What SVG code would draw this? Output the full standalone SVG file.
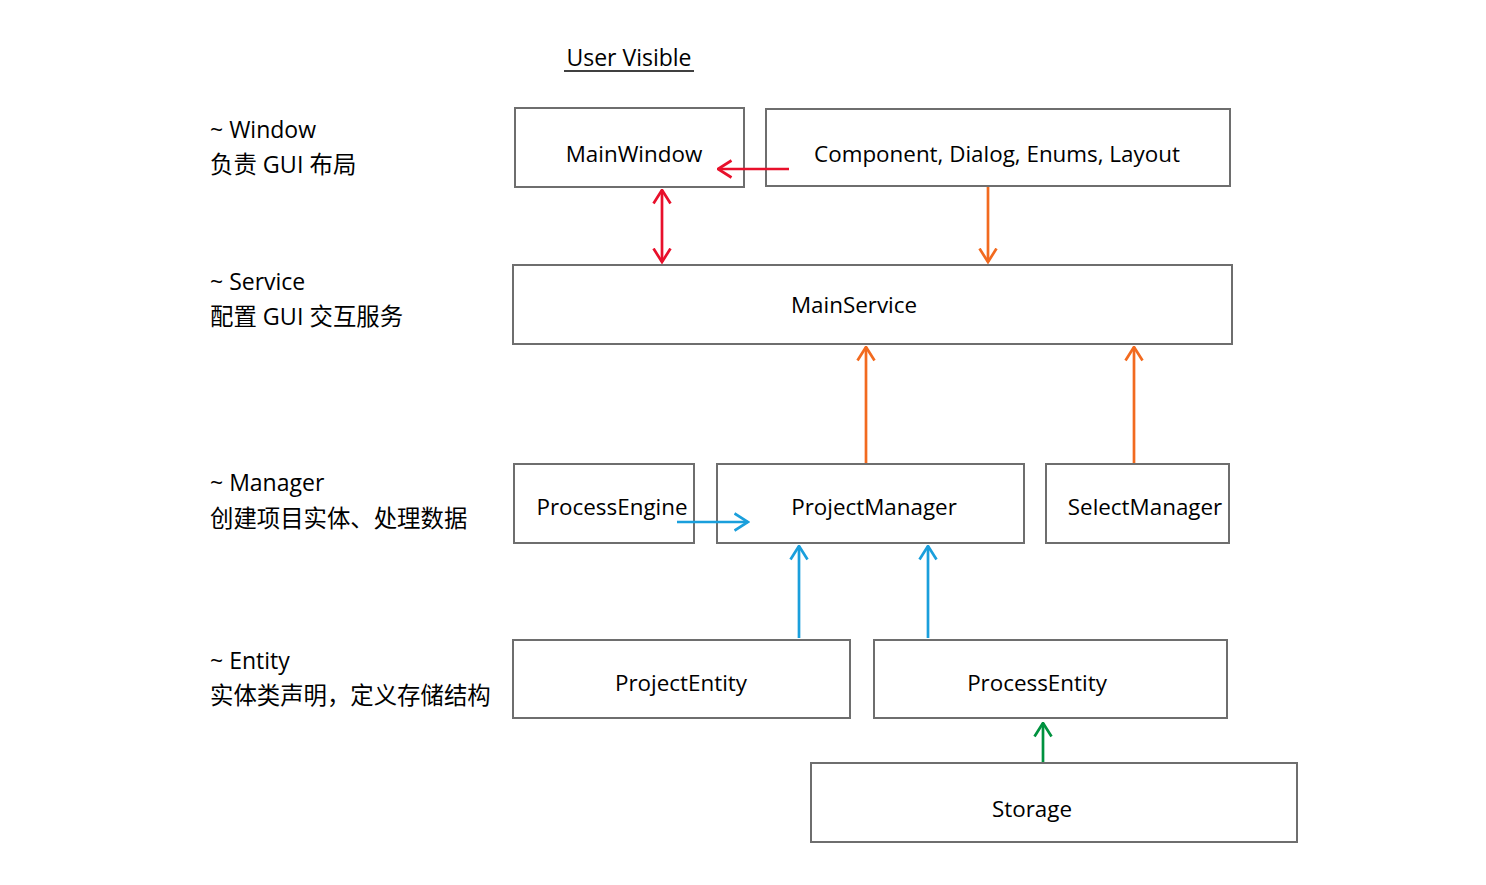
<svg xmlns="http://www.w3.org/2000/svg" width="1486" height="885" viewBox="0 0 1486 885">
<style>
.box{fill:#fff;stroke:#6e6e6e;stroke-width:2}
.t{font-family:"Open Sans","Noto Sans","Noto Sans CJK SC",sans-serif;font-size:22.4px;fill:#000}
.c{text-anchor:middle}
.l{font-family:"Open Sans","Noto Sans CJK SC",sans-serif;font-size:23px;fill:#000}
.cn{font-family:"Open Sans","Noto Sans CJK SC",sans-serif;font-size:23.4px;fill:#000}
.a{fill:none;stroke-width:2.7}
</style>
<defs>
<marker id="mr" viewBox="0 0 16 20" refX="14.5" refY="10" markerWidth="16" markerHeight="20" markerUnits="userSpaceOnUse" orient="auto-start-reverse"><path d="M1,1.5 L14.5,10 L1,18.5" fill="none" stroke="#e8102b" stroke-width="2.7"/></marker>
<marker id="mo" viewBox="0 0 16 20" refX="14.5" refY="10" markerWidth="16" markerHeight="20" markerUnits="userSpaceOnUse" orient="auto-start-reverse"><path d="M1,1.5 L14.5,10 L1,18.5" fill="none" stroke="#f26a1f" stroke-width="2.7"/></marker>
<marker id="mb" viewBox="0 0 16 20" refX="14.5" refY="10" markerWidth="16" markerHeight="20" markerUnits="userSpaceOnUse" orient="auto-start-reverse"><path d="M1,1.5 L14.5,10 L1,18.5" fill="none" stroke="#1a9fdc" stroke-width="2.7"/></marker>
<marker id="mg" viewBox="0 0 16 20" refX="14.5" refY="10" markerWidth="16" markerHeight="20" markerUnits="userSpaceOnUse" orient="auto-start-reverse"><path d="M1,1.5 L14.5,10 L1,18.5" fill="none" stroke="#00923f" stroke-width="2.7"/></marker>
</defs>
<rect width="1486" height="885" fill="#fff"/>
<g id="title">
<text class="l c" x="629" y="66">User Visible</text>
<line x1="564" y1="71" x2="694" y2="71" stroke="#000" stroke-width="1.5"/>
</g>
<g id="layer-labels">
<text class="l" x="210" y="138">~ Window</text>
<text class="cn" x="210" y="173">负责 GUI 布局</text>
<text class="l" x="210" y="290">~ Service</text>
<text class="cn" x="210" y="325">配置 GUI 交互服务</text>
<text class="l" x="210" y="491">~ Manager</text>
<text class="cn" x="210" y="527">创建项目实体、处理数据</text>
<text class="l" x="210" y="669">~ Entity</text>
<text class="cn" x="210" y="704">实体类声明，定义存储结构</text>
</g>
<g id="MainWindow"><rect class="box" x="515" y="108" width="229" height="79"/><text class="t c" x="634" y="162">MainWindow</text></g>
<g id="Component"><rect class="box" x="766" y="109" width="464" height="77"/><text class="t c" x="997" y="162">Component, Dialog, Enums, Layout</text></g>
<g id="MainService"><rect class="box" x="513" y="265" width="719" height="79"/><text class="t c" x="854" y="313">MainService</text></g>
<g id="ProcessEngine"><rect class="box" x="514" y="464" width="180" height="79"/><text class="t c" x="612" y="515">ProcessEngine</text></g>
<g id="ProjectManager"><rect class="box" x="717" y="464" width="307" height="79"/><text class="t c" x="874" y="515">ProjectManager</text></g>
<g id="SelectManager"><rect class="box" x="1046" y="464" width="183" height="79"/><text class="t c" x="1145" y="515">SelectManager</text></g>
<g id="ProjectEntity"><rect class="box" x="513" y="640" width="337" height="78"/><text class="t c" x="681" y="691">ProjectEntity</text></g>
<g id="ProcessEntity"><rect class="box" x="874" y="640" width="353" height="78"/><text class="t c" x="1037" y="691">ProcessEntity</text></g>
<g id="Storage"><rect class="box" x="811" y="763" width="486" height="79"/><text class="t c" x="1032" y="817">Storage</text></g>
<g id="connectors">
<line class="a" stroke="#e8102b" x1="789" y1="169" x2="718" y2="169" marker-end="url(#mr)"/>
<line class="a" stroke="#e8102b" x1="662" y1="190" x2="662" y2="262" marker-start="url(#mr)" marker-end="url(#mr)"/>
<line class="a" stroke="#f26a1f" x1="988" y1="187" x2="988" y2="262" marker-end="url(#mo)"/>
<line class="a" stroke="#f26a1f" x1="866" y1="463" x2="866" y2="347" marker-end="url(#mo)"/>
<line class="a" stroke="#f26a1f" x1="1134" y1="463" x2="1134" y2="347" marker-end="url(#mo)"/>
<line class="a" stroke="#1a9fdc" x1="677" y1="522" x2="748" y2="522" marker-end="url(#mb)"/>
<line class="a" stroke="#1a9fdc" x1="799" y1="638" x2="799" y2="546" marker-end="url(#mb)"/>
<line class="a" stroke="#1a9fdc" x1="928" y1="638" x2="928" y2="546" marker-end="url(#mb)"/>
<line class="a" stroke="#00923f" x1="1043" y1="762" x2="1043" y2="723" marker-end="url(#mg)"/>
</g>
</svg>
